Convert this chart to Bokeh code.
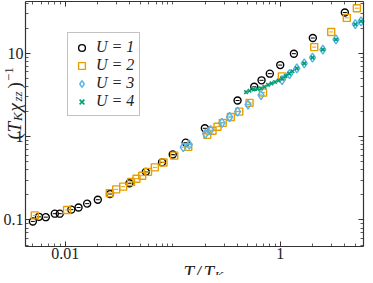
import math
from bokeh.plotting import figure
from bokeh.models import (LogAxis, FixedTicker, Label, Legend, LegendItem,
                          CustomJSTickFormatter, Range1d)
from bokeh.embed import file_html
from bokeh.resources import INLINE

# ---------------- data ----------------
u1_x = [0.0050, 0.0057, 0.0066, 0.0080, 0.0089, 0.0114, 0.0133, 0.0160, 0.0201, 0.0261,
        0.0396, 0.0562, 0.0795, 0.100, 0.132, 0.199, 0.401, 0.573, 0.670, 0.800,
        1.00, 1.34, 2.01, 3.99]
u1_y = [0.096, 0.109, 0.108, 0.119, 0.119, 0.133, 0.141, 0.157, 0.175, 0.205,
        0.276, 0.378, 0.492, 0.611, 0.849, 1.26, 2.72, 3.97, 4.75, 5.71,
        7.24, 9.92, 15.3, 31.0]

u2_x = [0.00521, 0.01039, 0.02594, 0.0298, 0.0346, 0.0409, 0.0460, 0.0520, 0.0589, 0.0681,
        0.0821, 0.1033, 0.1394, 0.2094, 0.2345, 0.261, 0.292, 0.347, 0.416, 0.518,
        0.692, 1.035, 2.07, 2.98, 4.16, 5.16]
u2_y = [0.1135, 0.1316, 0.210, 0.233, 0.251, 0.286, 0.313, 0.340, 0.378, 0.428,
        0.489, 0.592, 0.754, 1.052, 1.18, 1.316, 1.466, 1.723, 2.00, 2.546,
        3.38, 5.30, 11.9, 18.1, 26.7, 34.9]

u3_x = [0.1252, 0.1424, 0.2019, 0.2248, 0.2874, 0.3377, 0.401, 0.502, 0.663, 1.04,
        1.22, 1.427, 1.672, 1.996, 2.49, 3.30, 4.99, 5.64]
u3_y = [0.748, 0.804, 1.09, 1.197, 1.466, 1.723, 2.00, 2.425, 3.16, 4.79,
        5.63, 6.62, 7.58, 8.91, 11.1, 14.7, 22.4, 24.3]

u4_x = [0.481, 0.518, 0.565, 0.615, 0.663, 0.714, 0.770, 0.830, 0.895, 0.964,
        1.04, 1.12, 1.208, 1.30, 1.427, 1.672, 1.996, 2.49, 3.30, 4.99, 5.64]
u4_y = [3.42, 3.56, 3.70, 3.75, 3.81, 3.97, 4.19, 4.36, 4.54, 4.73,
        4.99, 5.34, 5.71, 6.11, 6.62, 7.58, 8.91, 11.1, 14.7, 22.4, 24.3]

series_labels = ["U = 1", "U = 2", "U = 3", "U = 4"]

x_major = [0.01, 1]
x_major_labels = ["0.01", "1"]
x_minor = [0.005, 0.006, 0.007, 0.008, 0.009,
           0.02, 0.03, 0.04, 0.05, 0.06, 0.07, 0.08, 0.09, 0.1,
           0.2, 0.3, 0.4, 0.5, 0.6, 0.7, 0.8, 0.9, 2, 3, 4, 5]
y_major = [0.1, 1, 10]
y_major_labels = ["0.1", "1", "10"]
y_minor = [0.05, 0.06, 0.07, 0.08, 0.09,
           0.2, 0.3, 0.4, 0.5, 0.6, 0.7, 0.8, 0.9,
           2, 3, 4, 5, 6, 7, 8, 9, 20, 30, 40]

# axis extents (data)
X_LO, X_HI = 0.00427, 5.95
Y_LO, Y_HI = 0.048, 42.0

# ---------------- layout ----------------
W, H = 365, 275
BOX_L, BOX_R, BOX_T, BOX_B = 25, 363, 1, 246   # axes box inside the canvas (px)
FONT = "Liberation Serif"
AX = "#333333"
TXT = "#222222"

# the frame fills the whole canvas; the axes box is drawn with bounded axes
dx = (math.log10(X_HI) - math.log10(X_LO)) / (BOX_R - BOX_L)
dy = (math.log10(Y_HI) - math.log10(Y_LO)) / (BOX_B - BOX_T)
xs = 10 ** (math.log10(X_LO) - BOX_L * dx)
xe = 10 ** (math.log10(X_HI) + (W - BOX_R) * dx)
ys = 10 ** (math.log10(Y_LO) - (H - BOX_B) * dy)
ye = 10 ** (math.log10(Y_HI) + BOX_T * dy)

p = figure(width=W, height=H, x_axis_type="log", y_axis_type="log",
           x_range=Range1d(xs, xe), y_range=Range1d(ys, ye),
           output_backend="svg", toolbar_location=None,
           min_border=0, min_border_left=0, min_border_right=0,
           min_border_top=0, min_border_bottom=0)
p.title.visible = False
p.xgrid.visible = False
p.ygrid.visible = False
p.outline_line_color = None
p.background_fill_color = "white"
p.border_fill_color = "white"

bottom = p.below[0]
left = p.left[0]
top = LogAxis()
right = LogAxis()
p.add_layout(top, "above")
p.add_layout(right, "right")

fmt_code = """
for (let i = 0; i < vals.length; i++) {
  if (Math.abs(Math.log10(vals[i]) - Math.log10(tick)) < 1e-6) return labs[i];
}
return '';
"""
bottom.formatter = CustomJSTickFormatter(args=dict(vals=x_major, labs=x_major_labels), code=fmt_code)
left.formatter = CustomJSTickFormatter(args=dict(vals=y_major, labs=y_major_labels), code=fmt_code)
top.formatter = CustomJSTickFormatter(code="return '';")
right.formatter = CustomJSTickFormatter(code="return '';")

bottom.fixed_location = Y_LO
top.fixed_location = Y_HI
left.fixed_location = X_LO
right.fixed_location = X_HI

for ax, ticks, minors, bnds in [(bottom, x_major, x_minor, (X_LO, X_HI)),
                                (top, x_major, x_minor, (X_LO, X_HI)),
                                (left, y_major, y_minor, (Y_LO, Y_HI)),
                                (right, y_major, y_minor, (Y_LO, Y_HI))]:
    ax.ticker = FixedTicker(ticks=ticks, minor_ticks=minors)
    ax.bounds = bnds
    ax.axis_line_color = AX
    ax.axis_line_width = 1.2
    ax.major_tick_in = 5
    ax.major_tick_out = 0
    ax.minor_tick_in = 3
    ax.minor_tick_out = 0
    ax.major_tick_line_color = AX
    ax.minor_tick_line_color = AX
    ax.major_tick_line_width = 1
    ax.minor_tick_line_width = 0.8
    ax.major_label_text_font = FONT
    ax.major_label_text_font_size = "16px"
    ax.major_label_text_color = TXT

bottom.major_label_standoff = 1
left.major_label_standoff = 2
top.major_label_standoff = 0
right.major_label_standoff = 0

# ---------------- data glyphs ----------------
BLACK, ORANGE, BLUE, GREEN = "black", "#E69F00", "#56B4E9", "#009E73"

r1 = p.scatter(u1_x, u1_y, marker="circle", size=7, fill_color=None,
               line_color=BLACK, line_width=1.4)
p.scatter(u1_x, u1_y, marker="dash", size=4, line_color=BLACK, line_width=1)
r2 = p.scatter(u2_x, u2_y, marker="square", size=7, fill_color=None,
               line_color=ORANGE, line_width=1.4)
p.scatter(u2_x, u2_y, marker="dash", size=4, line_color=ORANGE, line_width=1)
r3 = p.scatter(u3_x, u3_y, marker="diamond", size=9, fill_color=None,
               line_color=BLUE, line_width=1.4)
p.scatter(u3_x, u3_y, marker="dash", size=4, line_color=BLUE, line_width=1)
r4 = p.scatter(u4_x, u4_y, marker="x", size=5, line_color=GREEN, line_width=1.6)

legend = Legend(items=[LegendItem(label=series_labels[0], renderers=[r1]),
                       LegendItem(label=series_labels[1], renderers=[r2]),
                       LegendItem(label=series_labels[2], renderers=[r3]),
                       LegendItem(label=series_labels[3], renderers=[r4])],
                location=(67, H - 116), orientation="vertical",
                label_text_font=FONT, label_text_font_style="italic",
                label_text_font_size="16px", label_text_color=TXT,
                glyph_width=17, glyph_height=17, label_height=17,
                label_standoff=6, spacing=0, padding=5, margin=0,
                border_line_color="#888888", border_line_width=1,
                background_fill_color="white", background_fill_alpha=1)
p.add_layout(legend)

# ---------------- axis titles (pieces for sub/superscripts) ----------------
def lab(text, cx, cy, size=19, style="italic", angle=0.0):
    """cx, cy: canvas pixels (y downward) of the text's baseline start."""
    p.add_layout(Label(x=cx, y=H - cy, x_units="screen", y_units="screen", text=text,
                       text_font=FONT, text_font_style=style,
                       text_font_size=f"{size}px", text_color=TXT,
                       text_align="left", text_baseline="alphabetic", angle=angle))

# x title  T/T_K
lab("T", 183, 272)
lab("/", 195, 272)
lab("T", 203, 272)
lab("K", 214, 274.5, size=13)

# y title  (T_K chi_zz)^-1, rotated to read upward
A = math.pi / 2
lab("(", 14, 139, style="normal", angle=A)
lab("T", 14, 132, angle=A)
lab("K", 17, 120.5, size=13, angle=A)
lab("χ", 14, 111, angle=A)
lab("zz", 17, 101, size=13, angle=A)
lab(")", 14, 88, style="normal", angle=A)
lab("−1", 8.5, 80.5, size=13, style="normal", angle=A)

open("out.html", "w").write(file_html(p, INLINE))
